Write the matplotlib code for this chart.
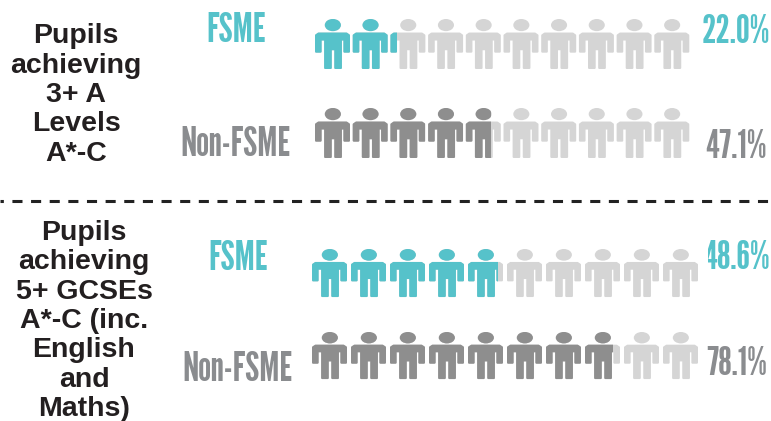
import matplotlib
matplotlib.use('Agg')
import matplotlib.pyplot as plt
from matplotlib.patches import Ellipse, Polygon, Rectangle

# share of pupils, out of 10 icons
rows = ['FSME', 'Non-FSME', 'FSME', 'Non-FSME']
values = [22.0, 47.1, 48.6, 78.1]
pct_labels = ['22.0%', '47.1%', '48.6%', '78.1%']
group_a = 'Pupils\nachieving\n3+ A\nLevels\nA*-C'
group_b = 'Pupils\nachieving\n5+ GCSEs\nA*-C (inc.\nEnglish\nand\nMaths)'

TEAL = '#56c2ca'
GREY = '#8e8e8e'
LIGHT = '#d5d5d5'
LABEL_GREY = '#8a8c8f'
NARROW = ['League Gothic', 'Oswald', 'DejaVu Sans']

row_colors = [TEAL, GREY, TEAL, GREY]
label_colors = [TEAL, LABEL_GREY, TEAL, LABEL_GREY]
row_x0 = [315, 315, 312, 312]
row_step = [37.7, 37.7, 39, 39]
row_top = [19, 108, 249, 332]
row_h = [50, 50, 48, 47]
label_x = [237, 236, 239, 238]
label_y = [42, 156, 270, 381]
pct_x = [770, 767, 770, 767]
pct_y = [43, 158, 269, 375]

# outline of the figure, icon is 1 wide and 1.44 tall
body = [(0.03, 0.47), (0.10, 0.42), (0.90, 0.42), (0.97, 0.47), (0.97, 0.94),
        (0.84, 0.94), (0.84, 0.59), (0.74, 0.59), (0.74, 1.41), (0.58, 1.41),
        (0.58, 0.87), (0.45, 0.87), (0.45, 1.41), (0.29, 1.41), (0.29, 0.59),
        (0.16, 0.59), (0.16, 0.94), (0.03, 0.94)]


def draw_person(ax, x, y, w, h, color, clip=None):
    sy = h / 1.44
    head = Ellipse((x + 0.51 * w, y + 0.175 * sy), 0.46 * w, 0.35 * sy, fc=color, ec='none')
    pts = [(x + px * w, y + py * sy) for px, py in body]
    torso = Polygon(pts, closed=True, fc=color, ec=color, lw=1.5, joinstyle='round')
    for p in (head, torso):
        ax.add_patch(p)
        if clip is not None:
            p.set_clip_path(clip)


fig = plt.figure(figsize=(7.71, 4.21), dpi=100)
ax = fig.add_axes([0, 0, 1, 1])
ax.set_xlim(0, 771)
ax.set_ylim(421, 0)
ax.axis('off')

w = 35
for i, val in enumerate(values):
    filled = val / 10
    for n in range(10):
        x = row_x0[i] + n * row_step[i]
        draw_person(ax, x, row_top[i], w, row_h[i], LIGHT)
        part = filled - n
        if part > 0:
            r = Rectangle((x - 2, row_top[i] - 2), min(part, 1) * w + 2, row_h[i] + 4,
                          transform=ax.transData, fc='none', ec='none')
            ax.add_patch(r)
            draw_person(ax, x, row_top[i], w, row_h[i], row_colors[i], clip=r)
    ax.text(label_x[i], label_y[i], rows[i], color=label_colors[i], ha='center', va='baseline',
            fontsize=30, family=NARROW)
    t = ax.text(pct_x[i], pct_y[i], pct_labels[i], color=label_colors[i], ha='right', va='baseline',
                fontsize=28.5, family=NARROW)
    if i == 2:
        # the first digit is cut off in the original
        c = Rectangle((708, 230), 63, 50, transform=ax.transData, fc='none', ec='none')
        ax.add_patch(c)
        t.set_clip_path(c)
        t.set_clip_on(True)

ax.text(76, 95, group_a, ha='center', va='center', fontsize=20.5, fontweight='bold',
        family='Liberation Sans', linespacing=1.17, color='#231f20')
ax.text(84, 321, group_b, ha='center', va='center', fontsize=20.5, fontweight='bold',
        family='Liberation Sans', linespacing=1.17, color='#231f20')

ax.plot([0, 771], [201, 201], color='#222222', lw=2.2, ls=(2.2, (3.3, 2.8)), solid_capstyle='butt')

fig.savefig('out.png', dpi=100)
